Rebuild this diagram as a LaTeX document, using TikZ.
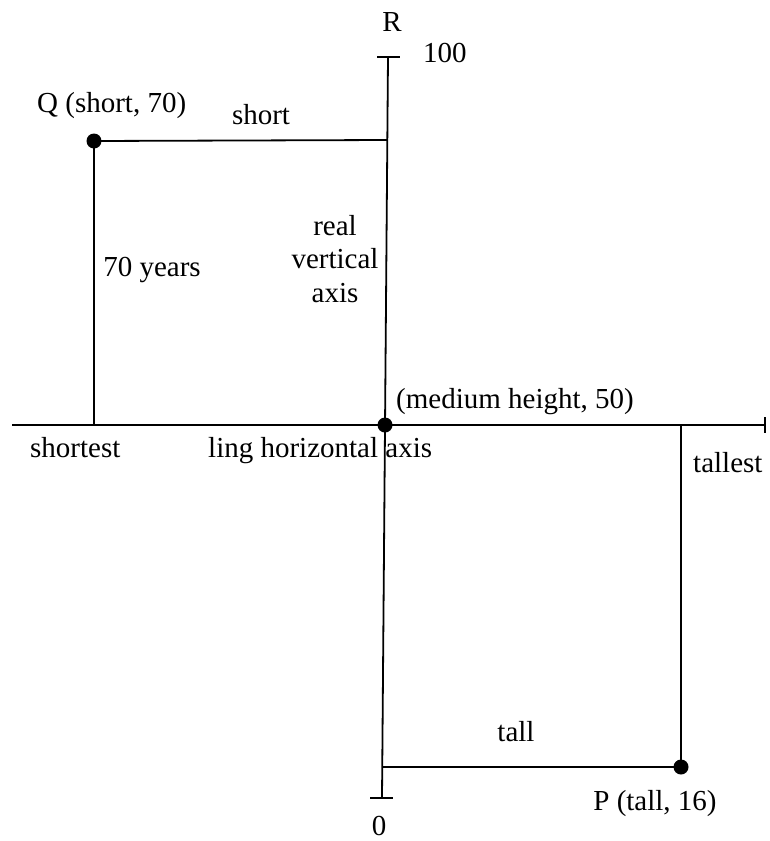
\documentclass[tikz,border=0pt]{standalone}
\usepackage{fontspec}
\setmainfont{Liberation Serif}
\begin{document}
\begin{tikzpicture}[x=1pt,y=-1pt,
  ax/.style={line width=1.8pt},
  dot/.style={circle,fill=black,inner sep=0pt,minimum size=15pt},
  lbl/.style={inner sep=0pt,font=\fontsize{29}{33.5}\selectfont}]
\useasboundingbox (0,0) rectangle (769,841);
% axis end points
\coordinate (top) at (388,57);
\coordinate (bot) at (382,798);
\coordinate (left) at (12,425);
\coordinate (right) at (765,425);
\coordinate (topL) at (377,57);
\coordinate (topR) at (400,57);
\coordinate (botL) at (370,798);
\coordinate (botR) at (393,798);
\coordinate (rU) at (765,417);
\coordinate (rD) at (765,433);
\coordinate (Qax) at (387.3,140);
\coordinate (Pax) at (382.3,767);
\coordinate (Qft) at (94,425);
\coordinate (Pft) at (681,425);
% axes
\draw[ax] (top) -- (bot);
\draw[ax] (left) -- (right);
\draw[ax] (topL) -- (topR);
\draw[ax] (botL) -- (botR);
\draw[ax] (rU) -- (rD);
% points
\node[dot] (O) at (385,425) {};
\node[dot] (Q) at (94,141) {};
\node[dot] (P) at (681,767) {};
\draw[ax] (Q.center) -- (Qax);
\draw[ax] (Q.center) -- (Qft);
\draw[ax] (Pax) -- (P.center);
\draw[ax] (Pft) -- (P.center);
% labels
\node[lbl] (tR) at (392,22) {R};
\node[lbl,anchor=base west] (t100) at (423,62) {100};
\node[lbl,anchor=base west] (tQ) at (37,112) {Q (short, 70)};
\node[lbl,anchor=base] (tshort) at (261,124) {short};
\node[lbl] (t70) at (152,270) {70 years};
\node[lbl,anchor=base,align=center] (treal) at (335,302) {real\\vertical\\axis};
\node[lbl,anchor=base west] (tmed) at (396,408) {(medium height, 50)};
\node[lbl,anchor=base west] (tshortest) at (30,457) {shortest};
\node[lbl,anchor=base west] (tling) at (208,457) {ling horizontal axis};
\node[lbl,anchor=base west] (ttallest) at (693,472) {tallest};
\node[lbl] (ttall) at (516,732) {tall};
\node[lbl] (tP) at (655,804) {P (tall, 16)};
\node[lbl] (t0) at (379,826) {0};
\end{tikzpicture}
\end{document}
